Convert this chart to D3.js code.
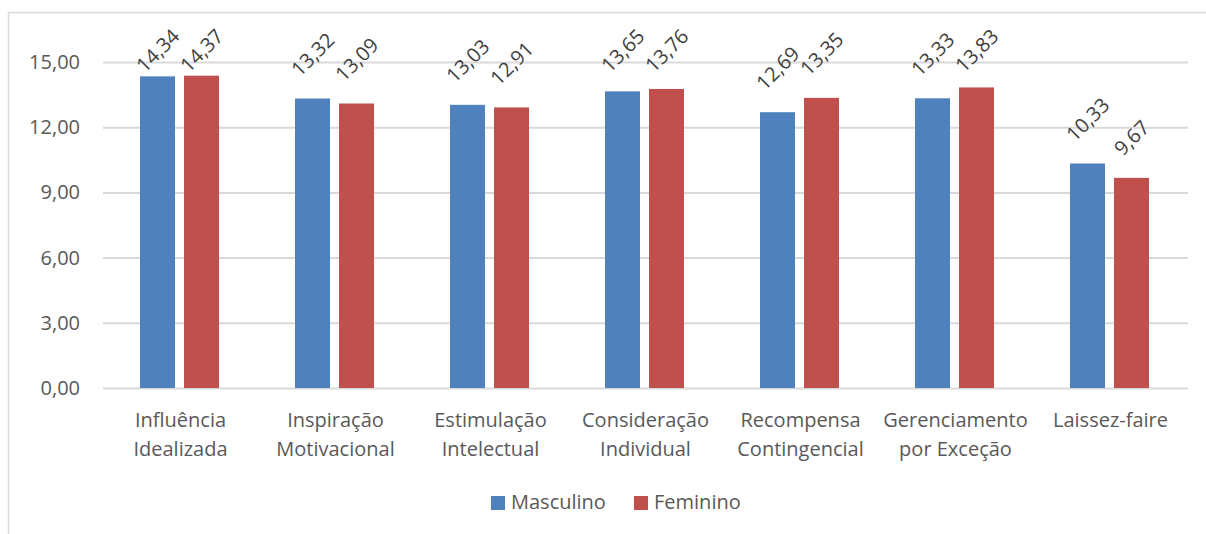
<!DOCTYPE html>
<html>
<head>
<meta charset="utf-8">
<script src="https://cdn.jsdelivr.net/npm/d3@7"></script>
<style>
  body { margin: 0; background: #fff; }
  svg { display: block; font-family: "Open Sans", sans-serif; }
</style>
</head>
<body>
<svg width="1206" height="534"></svg>
<script>
const categories = [
  ["Influência", "Idealizada"],
  ["Inspiração", "Motivacional"],
  ["Estimulação", "Intelectual"],
  ["Consideração", "Individual"],
  ["Recompensa", "Contingencial"],
  ["Gerenciamento", "por Exceção"],
  ["Laissez-faire"]
];
const series_names = ["Masculino", "Feminino"];
const masculino = [14.34, 13.32, 13.03, 13.65, 12.69, 13.33, 10.33];
const feminino = [14.37, 13.09, 12.91, 13.76, 13.35, 13.83, 9.67];
const y_ticks = [0, 3, 6, 9, 12, 15];
const colors = ["#4F81BD", "#C0504D"];

const svg = d3.select("svg");
const fmt = (v) => v.toFixed(2).replace(".", ",");

// chart frame
svg.append("line").attr("x1", 8).attr("x2", 1206).attr("y1", 12.5).attr("y2", 12.5)
  .attr("stroke", "#d9d9d9").attr("stroke-width", 1.5);
svg.append("line").attr("x1", 8.5).attr("x2", 8.5).attr("y1", 12).attr("y2", 534)
  .attr("stroke", "#d9d9d9").attr("stroke-width", 1.5);

const keys = categories.map((c) => c.join(" "));
const x_scale = d3.scaleBand().domain(keys).range([103, 1188]);
const x_inner = d3.scaleBand().domain(series_names).range([37, 116]).paddingInner(9 / 44);
const y_scale = d3.scaleLinear().domain([0, 15]).range([388, 62]);

const y_axis = d3.axisLeft(y_scale)
  .tickValues(y_ticks)
  .tickSize(-(1188 - 103))
  .tickPadding(23)
  .tickFormat(fmt);

const gy = svg.append("g").attr("transform", "translate(103,0)").call(y_axis);
gy.select(".domain").remove();
gy.selectAll(".tick line").attr("stroke", "#d9d9d9").attr("stroke-width", 2);
gy.selectAll(".tick text")
  .attr("fill", "#595959")
  .style("font-size", "20px")
  .style("font-family", "'Open Sans', sans-serif");

const rows = keys.map((k, i) => ({ key: k, values: [masculino[i], feminino[i]] }));

const groups = svg.selectAll("g.group")
  .data(rows)
  .enter()
  .append("g")
  .attr("class", "group")
  .attr("transform", (d) => `translate(${x_scale(d.key)},0)`);

groups.selectAll("rect")
  .data((d) => d.values.map((v, j) => ({ name: series_names[j], value: v, j: j })))
  .enter()
  .append("rect")
  .attr("x", (d) => x_inner(d.name))
  .attr("width", x_inner.bandwidth())
  .attr("y", (d) => y_scale(d.value))
  .attr("height", (d) => y_scale(0) - y_scale(d.value))
  .attr("fill", (d) => colors[d.j]);

// rotated value labels
groups.selectAll("text.value")
  .data((d) => d.values.map((v, j) => ({ name: series_names[j], value: v })))
  .enter()
  .append("text")
  .attr("class", "value")
  .attr("fill", "#404040")
  .style("font-size", "20px")
  .attr("text-anchor", "middle")
  .attr("dominant-baseline", "central")
  .text((d) => fmt(d.value))
  .each(function (d) {
    const len = this.getComputedTextLength();
    const ext = (len + 15) / Math.SQRT2;
    const top = y_scale(d.value);
    const cy = Math.max(27 + ext / 2, top - 21 - ext / 2);
    const cx = x_inner(d.name) + x_inner.bandwidth() / 2;
    d3.select(this).attr("transform", `translate(${cx},${cy}) rotate(-45)`);
  });

// category labels
groups.append("text")
  .attr("x", x_scale.bandwidth() / 2)
  .attr("y", 427)
  .attr("text-anchor", "middle")
  .attr("fill", "#595959")
  .style("font-size", "20px")
  .selectAll("tspan")
  .data((d, i) => categories[i])
  .enter()
  .append("tspan")
  .attr("x", x_scale.bandwidth() / 2)
  .attr("dy", (d, i) => (i === 0 ? 0 : 29))
  .text((d) => d);

// legend
const legend_x = [491, 634];
const legend = svg.selectAll("g.legend")
  .data(series_names)
  .enter()
  .append("g")
  .attr("class", "legend")
  .attr("transform", (d, i) => `translate(${legend_x[i]},496)`);
legend.append("rect").attr("width", 14).attr("height", 14).attr("fill", (d, i) => colors[i]);
legend.append("text")
  .attr("x", 20)
  .attr("y", 13)
  .attr("fill", "#595959")
  .style("font-size", "20px")
  .text((d) => d);
</script>
</body>
</html>
